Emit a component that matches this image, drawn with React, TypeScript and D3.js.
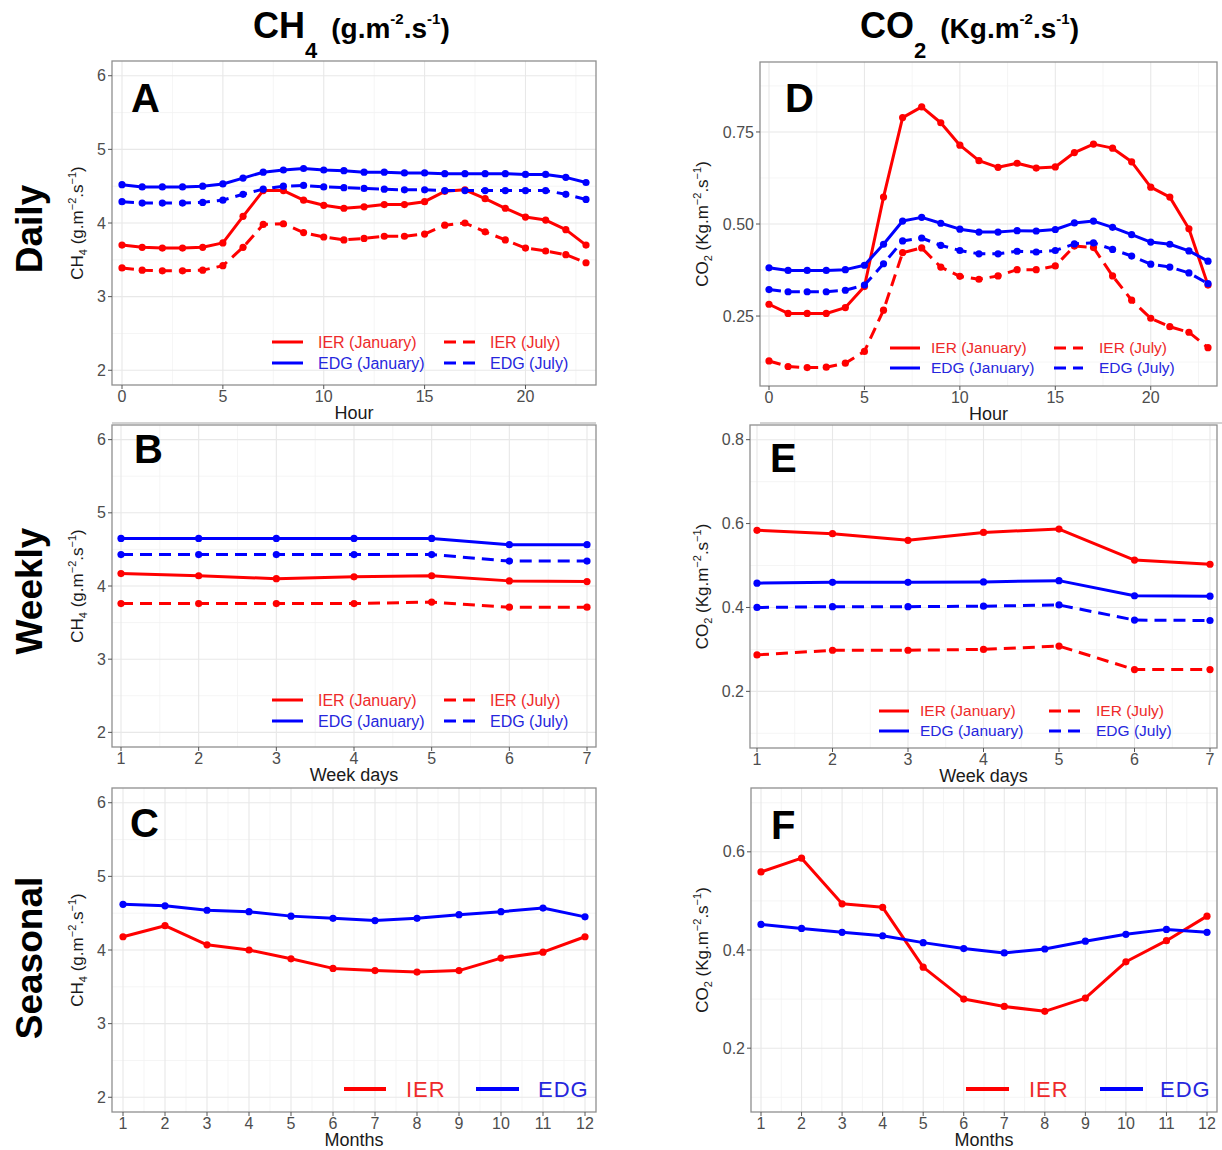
import React from "react";
import * as d3 from "d3";

// ---------------- DATA ----------------
const HOURS = [0, 1, 2, 3, 4, 5, 6, 7, 8, 9, 10, 11, 12, 13, 14, 15, 16, 17, 18, 19, 20, 21, 22, 23];
const WEEKDAYS = [1, 2, 3, 4, 5, 6, 7];
const MONTHS = [1, 2, 3, 4, 5, 6, 7, 8, 9, 10, 11, 12];

const HOUR_TICKS = [0, 5, 10, 15, 20];
const CH4_TICKS = [2, 3, 4, 5, 6];
const CO2_DAILY_TICKS = [0.25, 0.5, 0.75];
const CO2_WEEKLY_TICKS = [0.2, 0.4, 0.6, 0.8];
const CO2_SEASONAL_TICKS = [0.2, 0.4, 0.6];

// CH4 daily (g.m-2.s-1)
const ch4DailyIerJan = [3.70, 3.67, 3.66, 3.66, 3.67, 3.73, 4.09, 4.44, 4.44, 4.31, 4.24, 4.20, 4.22, 4.25, 4.25, 4.29, 4.43, 4.45, 4.33, 4.20, 4.08, 4.04, 3.91, 3.70];
const ch4DailyIerJul = [3.39, 3.36, 3.35, 3.35, 3.36, 3.42, 3.67, 3.98, 3.99, 3.87, 3.81, 3.77, 3.79, 3.82, 3.82, 3.85, 3.97, 4.00, 3.88, 3.77, 3.66, 3.62, 3.57, 3.46];
const ch4DailyEdgJan = [4.52, 4.49, 4.49, 4.49, 4.50, 4.53, 4.61, 4.69, 4.72, 4.74, 4.72, 4.71, 4.69, 4.69, 4.68, 4.68, 4.67, 4.67, 4.67, 4.67, 4.66, 4.66, 4.62, 4.55];
const ch4DailyEdgJul = [4.29, 4.27, 4.27, 4.27, 4.28, 4.31, 4.39, 4.46, 4.50, 4.51, 4.49, 4.48, 4.47, 4.46, 4.45, 4.45, 4.44, 4.44, 4.44, 4.44, 4.44, 4.44, 4.39, 4.32];

// CO2 daily (Kg.m-2.s-1)
const co2DailyIerJan = [0.282, 0.257, 0.257, 0.257, 0.273, 0.330, 0.573, 0.789, 0.818, 0.775, 0.714, 0.672, 0.654, 0.665, 0.652, 0.655, 0.694, 0.717, 0.706, 0.669, 0.600, 0.573, 0.487, 0.334];
const co2DailyIerJul = [0.128, 0.113, 0.110, 0.111, 0.122, 0.154, 0.266, 0.422, 0.435, 0.383, 0.358, 0.350, 0.359, 0.376, 0.376, 0.386, 0.440, 0.436, 0.359, 0.293, 0.244, 0.221, 0.206, 0.164];
const co2DailyEdgJan = [0.381, 0.374, 0.374, 0.374, 0.376, 0.388, 0.445, 0.508, 0.518, 0.502, 0.486, 0.478, 0.478, 0.482, 0.481, 0.485, 0.503, 0.508, 0.491, 0.471, 0.451, 0.445, 0.427, 0.399];
const co2DailyEdgJul = [0.322, 0.316, 0.316, 0.316, 0.320, 0.334, 0.392, 0.454, 0.462, 0.442, 0.428, 0.419, 0.419, 0.426, 0.424, 0.428, 0.446, 0.449, 0.431, 0.413, 0.391, 0.383, 0.367, 0.338];

// Weekly
const ch4WeekIerJan = [4.17, 4.14, 4.10, 4.125, 4.14, 4.07, 4.06];
const ch4WeekIerJul = [3.76, 3.76, 3.76, 3.76, 3.78, 3.71, 3.71];
const ch4WeekEdgJan = [4.65, 4.65, 4.65, 4.65, 4.65, 4.565, 4.565];
const ch4WeekEdgJul = [4.43, 4.43, 4.43, 4.43, 4.43, 4.34, 4.34];
const co2WeekIerJan = [0.584, 0.576, 0.560, 0.579, 0.587, 0.513, 0.503];
const co2WeekIerJul = [0.287, 0.298, 0.298, 0.300, 0.308, 0.252, 0.252];
const co2WeekEdgJan = [0.458, 0.460, 0.460, 0.461, 0.464, 0.428, 0.427];
const co2WeekEdgJul = [0.400, 0.402, 0.402, 0.403, 0.406, 0.370, 0.369];

// Seasonal
const ch4SeasIer = [4.18, 4.33, 4.07, 4.00, 3.88, 3.75, 3.72, 3.70, 3.72, 3.89, 3.97, 4.18];
const ch4SeasEdg = [4.62, 4.60, 4.54, 4.52, 4.46, 4.43, 4.40, 4.43, 4.48, 4.52, 4.57, 4.45];
const co2SeasIer = [0.559, 0.587, 0.494, 0.487, 0.365, 0.300, 0.285, 0.275, 0.302, 0.376, 0.419, 0.469];
const co2SeasEdg = [0.452, 0.444, 0.436, 0.429, 0.415, 0.403, 0.394, 0.402, 0.418, 0.432, 0.442, 0.436];

const LEGEND4 = ["IER (January)", "IER (July)", "EDG (January)", "EDG (July)"];
const LEGEND2 = ["IER", "EDG"];
const ROW_LABELS = ["Daily", "Weekly", "Seasonal"];

// ---------------- STYLE ----------------
const FONT = "'Liberation Sans', Arial, Helvetica, sans-serif";
const RED = "#ff0000";
const BLUE = "#0000ff";
const RED_TXT = "#ee2a2a";
const BLUE_TXT = "#2626dd";
const DASH = "12,7";

type Series = { values: number[]; color: string; dashed: boolean };

function minorTicks(ticks: number[], domain: [number, number]) {
  const step = ticks[1] - ticks[0];
  const out: number[] = [];
  const cand = [ticks[0] - step / 2, ...ticks.map((t) => t + step / 2)];
  cand.forEach((v) => {
    if (v > domain[0] && v < domain[1]) out.push(v);
  });
  return out;
}

function YTitle({ x, cy, gas }: { x: number; cy: number; gas: "ch4" | "co2" }) {
  const fs = 17;
  const sfs = 11;
  return (
    <text
      transform={`translate(${x},${cy}) rotate(-90)`}
      textAnchor="middle"
      fontFamily={FONT}
      fontSize={fs}
      fill="#1a1a1a"
    >
      {gas === "ch4" ? "CH" : "CO"}
      <tspan fontSize={sfs} dy={4}>{gas === "ch4" ? "4" : "2"}</tspan>
      <tspan dy={-4}>{gas === "ch4" ? " (g.m" : " (Kg.m"}</tspan>
      <tspan fontSize={sfs} dy={-7}>−2</tspan>
      <tspan dy={7}>.s</tspan>
      <tspan fontSize={sfs} dy={-7}>−1</tspan>
      <tspan dy={7}>)</tspan>
    </text>
  );
}

type Legend4 = { kind: 4; rows: [number, number]; s1: [number, number]; t1: number; s2: [number, number]; t2: number; fs: number };
type Legend2 = { kind: 2; y: number; s1: [number, number]; t1: number; s2: [number, number]; t2: number; fs: number };

type PanelProps = {
  frame: { l: number; t: number; r: number; b: number };
  xVals: number[];
  xTicks: number[];
  xPad: number;
  yDomain: [number, number];
  yTicks: number[];
  yFmt: (v: number) => string;
  series: Series[];
  letter: string;
  letterPos: [number, number];
  xTitle: string;
  gas: "ch4" | "co2";
  yTitleX: number;
  legend: Legend4 | Legend2;
};

function Panel(p: PanelProps) {
  const { l, t, r, b } = p.frame;
  const x = d3
    .scaleLinear()
    .domain([p.xVals[0], p.xVals[p.xVals.length - 1]])
    .range([l + p.xPad, r - p.xPad]);
  const y = d3.scaleLinear().domain(p.yDomain).range([b, t]);
  const xStep = p.xTicks[1] - p.xTicks[0];
  const xMinor = [p.xTicks[0] - xStep / 2, ...p.xTicks.map((v) => v + xStep / 2)].filter(
    (v) => x(v) > l && x(v) < r
  );
  const yMinor = minorTicks(p.yTicks, p.yDomain);
  const line = d3
    .line<number>()
    .x((_, i) => x(p.xVals[i]))
    .y((v) => y(v));

  const lg = p.legend;
  return (
    <g>
      <rect x={l} y={t} width={r - l} height={b - t} fill="#ffffff" />
      {xMinor.map((v) => (
        <line key={"xm" + v} x1={x(v)} x2={x(v)} y1={t} y2={b} stroke="#f3f3f3" strokeWidth={0.8} />
      ))}
      {yMinor.map((v) => (
        <line key={"ym" + v} x1={l} x2={r} y1={y(v)} y2={y(v)} stroke="#f3f3f3" strokeWidth={0.8} />
      ))}
      {p.xTicks.map((v) => (
        <line key={"xg" + v} x1={x(v)} x2={x(v)} y1={t} y2={b} stroke="#e8e8e8" strokeWidth={1.1} />
      ))}
      {p.yTicks.map((v) => (
        <line key={"yg" + v} x1={l} x2={r} y1={y(v)} y2={y(v)} stroke="#e8e8e8" strokeWidth={1.1} />
      ))}
      {p.series.map((s, si) => (
        <g key={"s" + si}>
          <path
            d={line(s.values) || ""}
            fill="none"
            stroke={s.color}
            strokeWidth={3}
            strokeDasharray={s.dashed ? DASH : undefined}
            strokeLinejoin="round"
          />
          {s.values.map((v, i) => (
            <circle key={i} cx={x(p.xVals[i])} cy={y(v)} r={3.6} fill={s.color} />
          ))}
        </g>
      ))}
      <rect x={l} y={t} width={r - l} height={b - t} fill="none" stroke="#8f8f8f" strokeWidth={1.3} />
      {p.yTicks.map((v) => (
        <g key={"yt" + v}>
          <line x1={l - 4} x2={l} y1={y(v)} y2={y(v)} stroke="#555" strokeWidth={1} />
          <text
            x={l - 6}
            y={y(v)}
            dy="0.35em"
            textAnchor="end"
            fontFamily={FONT}
            fontSize={16}
            fill="#4d4d4d"
          >
            {p.yFmt(v)}
          </text>
        </g>
      ))}
      {p.xTicks.map((v) => (
        <g key={"xt" + v}>
          <line x1={x(v)} x2={x(v)} y1={b} y2={b + 4} stroke="#555" strokeWidth={1} />
          <text x={x(v)} y={b + 17} textAnchor="middle" fontFamily={FONT} fontSize={16} fill="#4d4d4d">
            {v}
          </text>
        </g>
      ))}
      <text
        x={(l + r) / 2}
        y={b + 34}
        textAnchor="middle"
        fontFamily={FONT}
        fontSize={18}
        fill="#1a1a1a"
      >
        {p.xTitle}
      </text>
      <YTitle x={p.yTitleX} cy={(t + b) / 2} gas={p.gas} />
      <text
        x={p.letterPos[0]}
        y={p.letterPos[1]}
        fontFamily={FONT}
        fontWeight="bold"
        fontSize={40}
        fill="#000"
      >
        {p.letter}
      </text>
      {lg.kind === 4 ? (
        <g fontFamily={FONT} fontSize={lg.fs}>
          {[0, 1].map((row) => {
            const col = row === 0 ? RED : BLUE;
            const tc = row === 0 ? RED_TXT : BLUE_TXT;
            const yy = lg.rows[row];
            return (
              <g key={"lr" + row}>
                <line x1={lg.s1[0]} x2={lg.s1[1]} y1={yy} y2={yy} stroke={col} strokeWidth={3} />
                <text x={lg.t1} y={yy} dy="0.35em" fill={tc}>
                  {LEGEND4[row * 2]}
                </text>
                <line
                  x1={lg.s2[0]}
                  x2={lg.s2[1]}
                  y1={yy}
                  y2={yy}
                  stroke={col}
                  strokeWidth={3}
                  strokeDasharray={DASH}
                />
                <text x={lg.t2} y={yy} dy="0.35em" fill={tc}>
                  {LEGEND4[row * 2 + 1]}
                </text>
              </g>
            );
          })}
        </g>
      ) : (
        <g fontFamily={FONT} fontSize={lg.fs}>
          <line x1={lg.s1[0]} x2={lg.s1[1]} y1={lg.y} y2={lg.y} stroke={RED} strokeWidth={4} />
          <text x={lg.t1} y={lg.y} dy="0.35em" fill={RED_TXT} letterSpacing={1}>
            {LEGEND2[0]}
          </text>
          <line x1={lg.s2[0]} x2={lg.s2[1]} y1={lg.y} y2={lg.y} stroke={BLUE} strokeWidth={4} />
          <text x={lg.t2} y={lg.y} dy="0.35em" fill={BLUE_TXT} letterSpacing={1}>
            {LEGEND2[1]}
          </text>
        </g>
      )}
    </g>
  );
}

function ColTitle({ x, gas }: { x: number; gas: "ch4" | "co2" }) {
  return (
    <text x={x} y={38} fontFamily={FONT} fontWeight="bold" fill="#000" fontSize={36}>
      {gas === "ch4" ? "CH" : "CO"}
      <tspan fontSize={22} dy={20}>{gas === "ch4" ? "4" : "2"}</tspan>
      <tspan fontSize={28} dy={-20} dx={14}>{gas === "ch4" ? "(g.m" : "(Kg.m"}</tspan>
      <tspan fontSize={15} dy={-14}>-2</tspan>
      <tspan fontSize={28} dy={14}>.s</tspan>
      <tspan fontSize={15} dy={-14}>-1</tspan>
      <tspan fontSize={28} dy={14}>)</tspan>
    </text>
  );
}

export default function App() {
  const f2 = d3.format(".2f");
  const f1 = d3.format(".1f");
  const fi = (v: number) => String(v);
  const ch4Domain: [number, number] = [1.8, 6.2];

  return (
    <svg
      width={1222}
      height={1150}
      style={{ position: "absolute", left: 0, top: 0, background: "#fff" }}
    >
      <rect x={0} y={0} width={1222} height={1150} fill="#fff" />
      <ColTitle x={253} gas="ch4" />
      <ColTitle x={860} gas="co2" />
      {ROW_LABELS.map((lab, i) => (
        <text
          key={lab}
          transform={`translate(42,${[229, 591, 958][i]}) rotate(-90)`}
          textAnchor="middle"
          fontFamily={FONT}
          fontWeight="bold"
          fontSize={37}
          fill="#000"
        >
          {lab}
        </text>
      ))}
      <line x1={112} x2={596} y1={423} y2={423} stroke="#c4c4c4" strokeWidth={1.5} />
      <line x1={760} x2={1222} y1={423} y2={423} stroke="#c4c4c4" strokeWidth={1.5} />

      {/* A */}
      <Panel
        frame={{ l: 112, t: 61, r: 596, b: 385 }}
        xVals={HOURS}
        xTicks={HOUR_TICKS}
        xPad={10}
        yDomain={ch4Domain}
        yTicks={CH4_TICKS}
        yFmt={fi}
        series={[
          { values: ch4DailyIerJan, color: RED, dashed: false },
          { values: ch4DailyIerJul, color: RED, dashed: true },
          { values: ch4DailyEdgJan, color: BLUE, dashed: false },
          { values: ch4DailyEdgJul, color: BLUE, dashed: true },
        ]}
        letter="A"
        letterPos={[131, 112]}
        xTitle="Hour"
        gas="ch4"
        yTitleX={83}
        legend={{ kind: 4, rows: [342, 363], s1: [272, 303], t1: 318, s2: [444, 475], t2: 490, fs: 16 }}
      />
      {/* B */}
      <Panel
        frame={{ l: 112, t: 425, r: 596, b: 747 }}
        xVals={WEEKDAYS}
        xTicks={WEEKDAYS}
        xPad={9}
        yDomain={ch4Domain}
        yTicks={CH4_TICKS}
        yFmt={fi}
        series={[
          { values: ch4WeekIerJan, color: RED, dashed: false },
          { values: ch4WeekIerJul, color: RED, dashed: true },
          { values: ch4WeekEdgJan, color: BLUE, dashed: false },
          { values: ch4WeekEdgJul, color: BLUE, dashed: true },
        ]}
        letter="B"
        letterPos={[134, 463]}
        xTitle="Week days"
        gas="ch4"
        yTitleX={83}
        legend={{ kind: 4, rows: [700, 721], s1: [272, 303], t1: 318, s2: [444, 475], t2: 490, fs: 16 }}
      />
      {/* C */}
      <Panel
        frame={{ l: 112, t: 788, r: 596, b: 1112 }}
        xVals={MONTHS}
        xTicks={MONTHS}
        xPad={11}
        yDomain={ch4Domain}
        yTicks={CH4_TICKS}
        yFmt={fi}
        series={[
          { values: ch4SeasIer, color: RED, dashed: false },
          { values: ch4SeasEdg, color: BLUE, dashed: false },
        ]}
        letter="C"
        letterPos={[130, 837]}
        xTitle="Months"
        gas="ch4"
        yTitleX={83}
        legend={{ kind: 2, y: 1089, s1: [344, 386], t1: 406, s2: [476, 519], t2: 538, fs: 22 }}
      />
      {/* D */}
      <Panel
        frame={{ l: 760, t: 62, r: 1217, b: 386 }}
        xVals={HOURS}
        xTicks={HOUR_TICKS}
        xPad={9}
        yDomain={[0.06, 0.94]}
        yTicks={CO2_DAILY_TICKS}
        yFmt={f2}
        series={[
          { values: co2DailyIerJan, color: RED, dashed: false },
          { values: co2DailyIerJul, color: RED, dashed: true },
          { values: co2DailyEdgJan, color: BLUE, dashed: false },
          { values: co2DailyEdgJul, color: BLUE, dashed: true },
        ]}
        letter="D"
        letterPos={[785, 112]}
        xTitle="Hour"
        gas="co2"
        yTitleX={708}
        legend={{ kind: 4, rows: [348, 368], s1: [890, 920], t1: 931, s2: [1054, 1083], t2: 1099, fs: 15.5 }}
      />
      {/* E */}
      <Panel
        frame={{ l: 750, t: 425, r: 1217, b: 748 }}
        xVals={WEEKDAYS}
        xTicks={WEEKDAYS}
        xPad={7}
        yDomain={[0.065, 0.835]}
        yTicks={CO2_WEEKLY_TICKS}
        yFmt={f1}
        series={[
          { values: co2WeekIerJan, color: RED, dashed: false },
          { values: co2WeekIerJul, color: RED, dashed: true },
          { values: co2WeekEdgJan, color: BLUE, dashed: false },
          { values: co2WeekEdgJul, color: BLUE, dashed: true },
        ]}
        letter="E"
        letterPos={[770, 472]}
        xTitle="Week days"
        gas="co2"
        yTitleX={708}
        legend={{ kind: 4, rows: [711, 731], s1: [879, 909], t1: 920, s2: [1049, 1080], t2: 1096, fs: 15.5 }}
      />
      {/* F */}
      <Panel
        frame={{ l: 751, t: 788, r: 1217, b: 1112 }}
        xVals={MONTHS}
        xTicks={MONTHS}
        xPad={10}
        yDomain={[0.07, 0.73]}
        yTicks={CO2_SEASONAL_TICKS}
        yFmt={f1}
        series={[
          { values: co2SeasIer, color: RED, dashed: false },
          { values: co2SeasEdg, color: BLUE, dashed: false },
        ]}
        letter="F"
        letterPos={[771, 839]}
        xTitle="Months"
        gas="co2"
        yTitleX={708}
        legend={{ kind: 2, y: 1089, s1: [966, 1009], t1: 1029, s2: [1100, 1143], t2: 1160, fs: 22 }}
      />
    </svg>
  );
}
